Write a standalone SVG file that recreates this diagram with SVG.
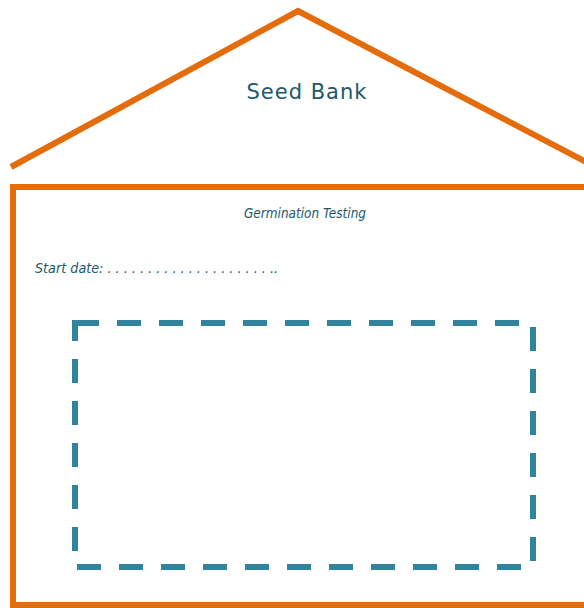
<svg xmlns="http://www.w3.org/2000/svg" width="584" height="608" viewBox="0 0 584 608">
<style>
.or{fill:none;stroke:#E46C0A;stroke-width:6}
.t{fill:#215968;font-family:"DejaVu Sans",sans-serif}
</style>
<rect width="584" height="608" fill="#fff"/>
<g id="roof"><polyline class="or" points="11,167 298,11 590,164"/></g>
<g id="house"><rect class="or" x="13" y="187" width="580" height="418"/></g>
<g id="title"><text class="t" x="307" y="99" text-anchor="middle" font-size="21" letter-spacing="1">Seed Bank</text></g>
<g id="subtitle"><text class="t" x="305" y="218" text-anchor="middle" font-size="14" font-style="italic" textLength="122" lengthAdjust="spacingAndGlyphs">Germination Testing</text></g>
<g id="startdate"><text class="t" x="35" y="273" font-size="14" font-style="italic" textLength="243" lengthAdjust="spacingAndGlyphs">Start date: . . . . . . . . . . . . . . . . . . . . ..</text></g>
<g id="box"><rect x="75" y="323" width="458" height="244" fill="none" stroke="#31849B" stroke-width="6" stroke-dasharray="24 18"/></g>
</svg>
